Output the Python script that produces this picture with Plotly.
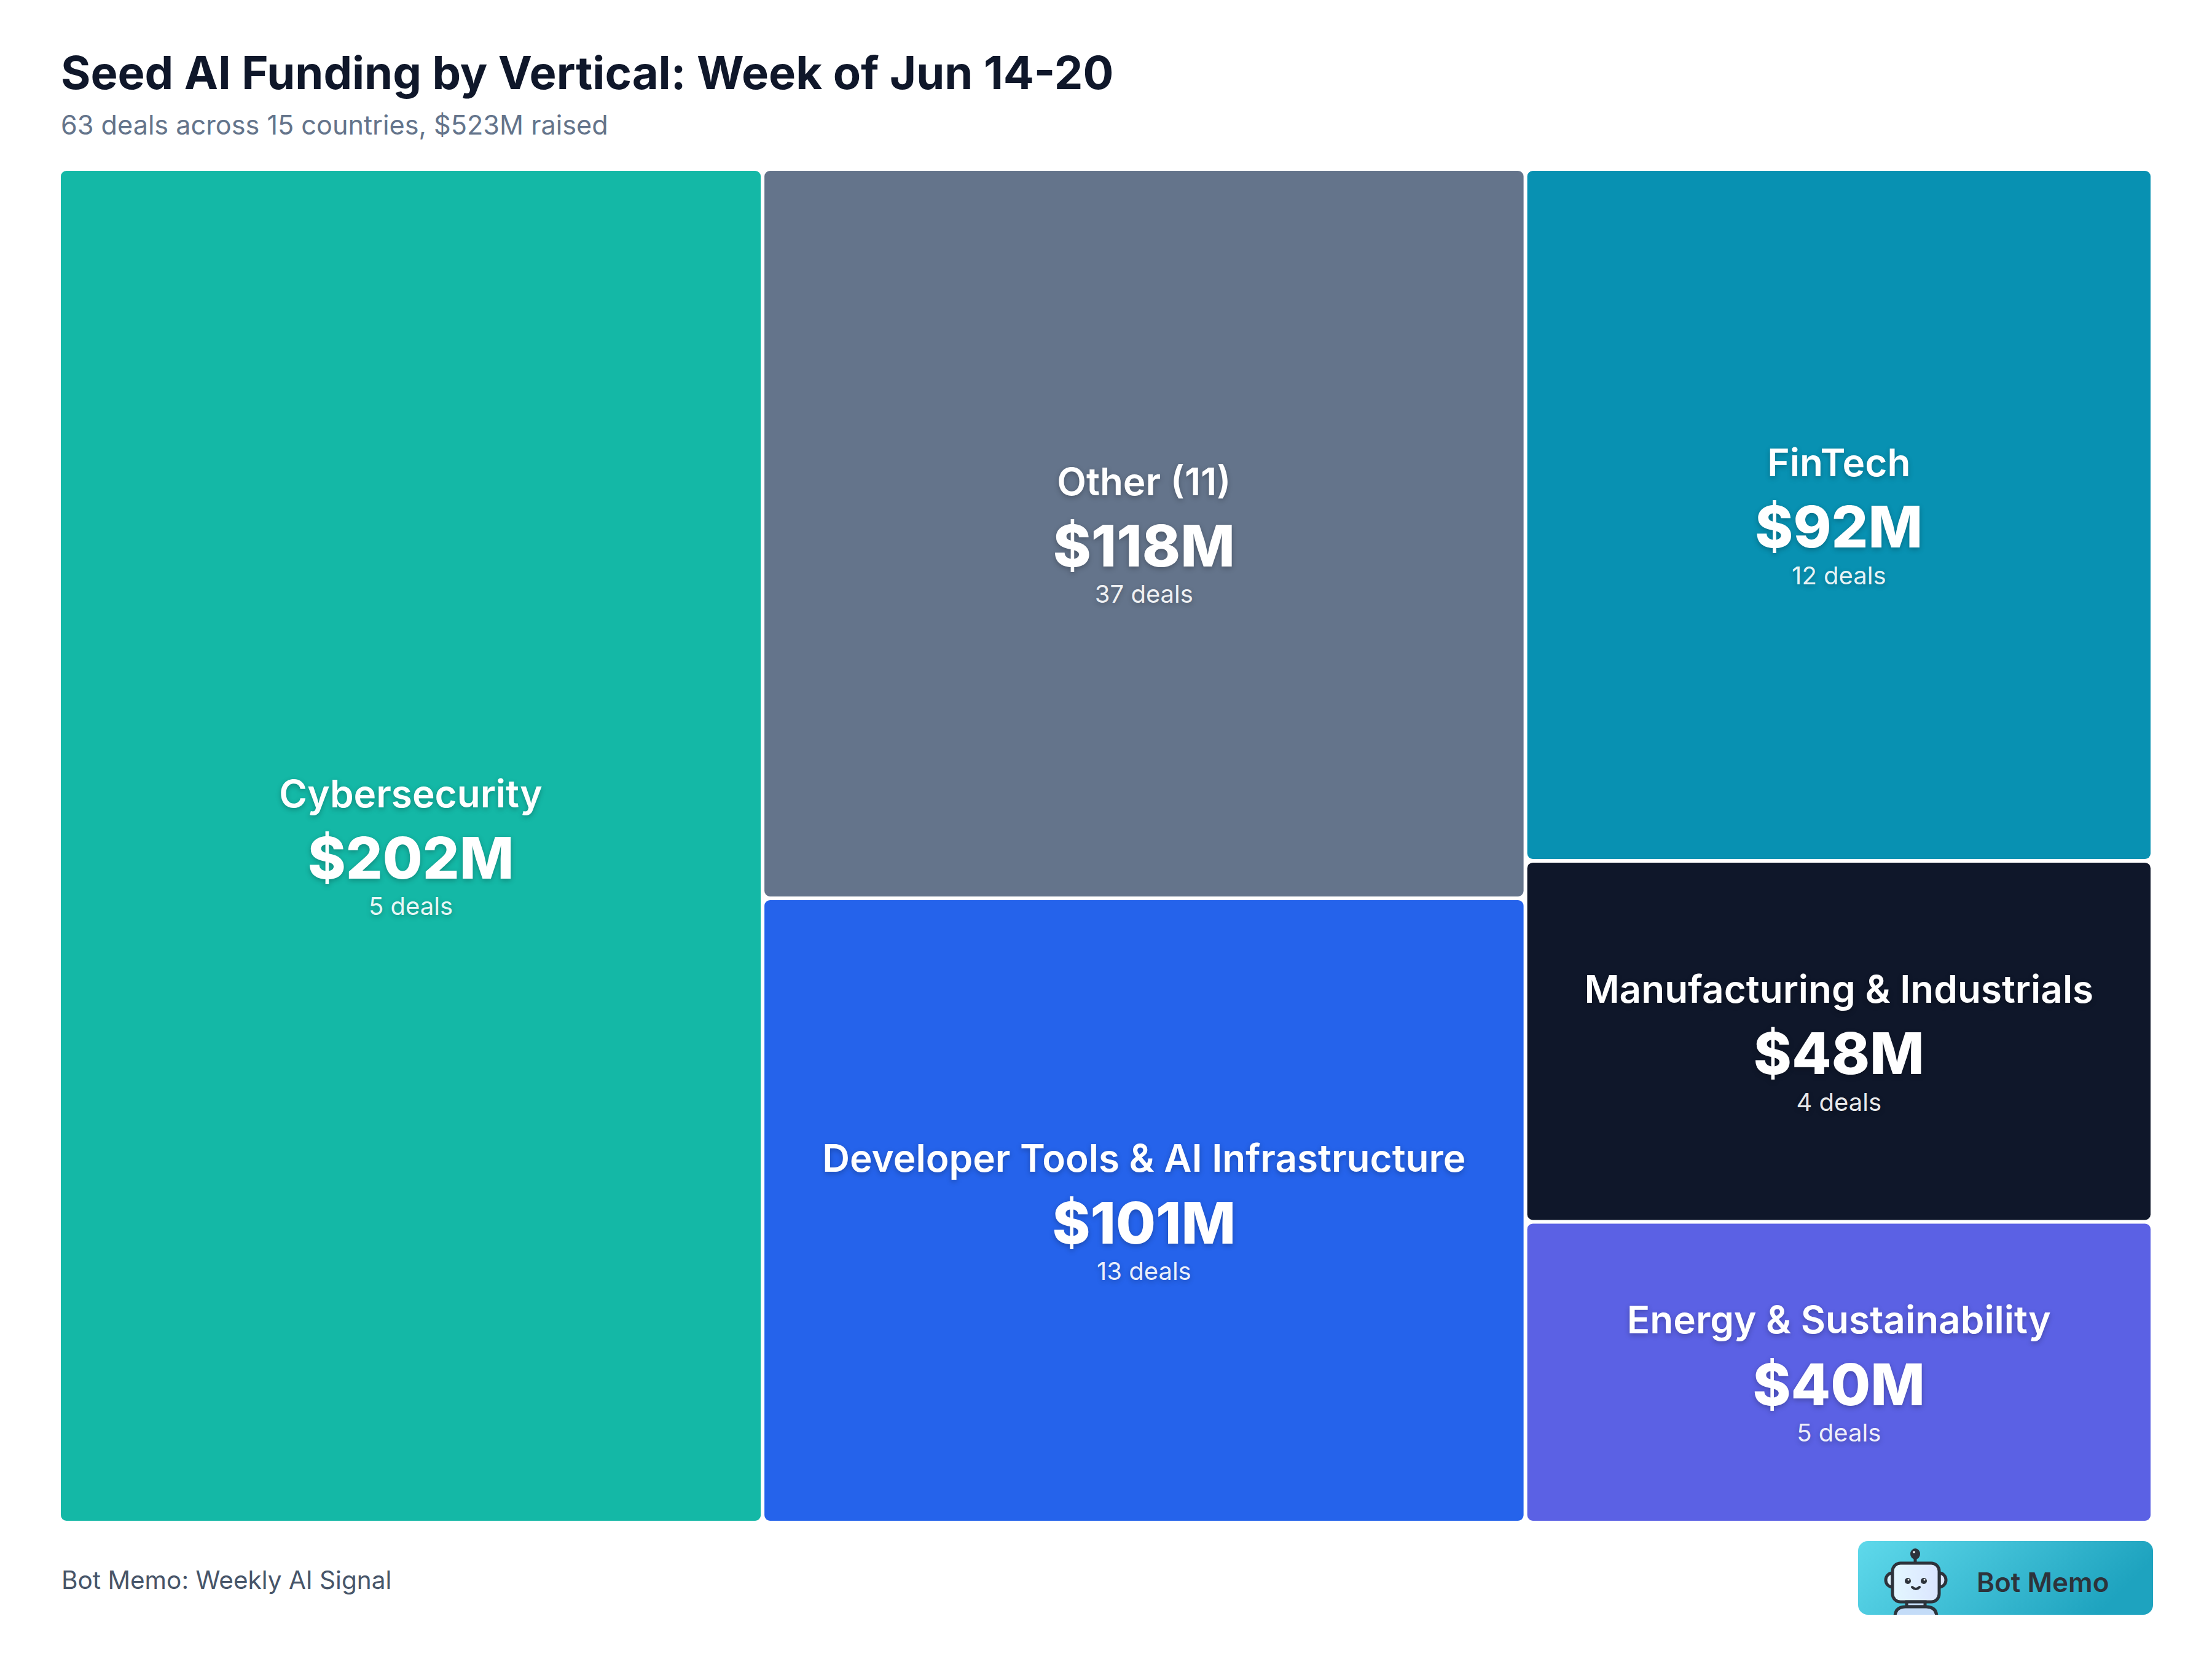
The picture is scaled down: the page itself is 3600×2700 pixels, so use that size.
import base64
import plotly.graph_objects as go

# data
verticals = ["Cybersecurity", "Other (11)", "Developer Tools & AI Infrastructure",
             "FinTech", "Manufacturing & Industrials", "Energy & Sustainability"]
funding_musd = [202, 118, 101, 92, 48, 40]
deal_counts = [5, 37, 13, 12, 4, 5]
tile_colors = ["#14b8a6", "#64748b", "#2563eb", "#0891b2", "#0f172a", "#5b61e4"]

title_text = "Seed AI Funding by Vertical: Week of Jun 14-20"
subtitle_text = "63 deals across 15 countries, $523M raised"
footer_text = "Bot Memo: Weekly AI Signal"
brand_text = "Bot Memo"

# page geometry (px); the page body adds an 8px offset, so the figure is a bit smaller
OFF = 8
W, H = 3600 - OFF, 2700 - 2 * OFF
ML, MT = 99 - OFF, 278 - OFF
MR = W - (3500 - OFF)
MB = H - (2475 - OFF)


def px(x):
    # reference pixel x -> paper
    return (x - OFF - ML) / (W - ML - MR)


def py(y):
    # reference pixel y -> paper
    return (H - MB - (y - OFF)) / (H - MT - MB)


# badge artwork (gradient pill + robot), text added separately as annotation
badge_svg = """<svg xmlns='http://www.w3.org/2000/svg' width='480' height='120' viewBox='0 0 480 120'>
<defs>
<linearGradient id='bg' x1='0' y1='0' x2='1' y2='0.25'>
<stop offset='0' stop-color='#5fd9eb'/><stop offset='1' stop-color='#1ea3bf'/></linearGradient>
<linearGradient id='face' x1='0' y1='0' x2='1' y2='0'>
<stop offset='0' stop-color='#e3f7ff'/><stop offset='1' stop-color='#dbe5ff'/></linearGradient>
<clipPath id='c'><rect width='480' height='120' rx='16'/></clipPath>
</defs>
<rect width='480' height='120' rx='16' fill='url(#bg)'/>
<g clip-path='url(#c)' stroke='#2d333b' stroke-width='5'>
<path d='M93,29 L93,36' fill='none'/>
<path d='M56,52 A11,11.5 0 0 0 56,75 Z' fill='#dff4ff'/>
<path d='M132,52 A11,11.5 0 0 1 132,75 Z' fill='#dbe5ff'/>
<rect x='56' y='36' width='76' height='63' rx='13' fill='url(#face)'/>
<rect x='79' y='99' width='30' height='8' fill='#c4dcf8'/>
<path d='M60,124 Q60,107 77,107 L111,107 Q128,107 128,124 Z' fill='#c4dcf8'/>
<path d='M88,75 Q94,81 100,75' fill='none' stroke-width='4' stroke-linecap='round'/>
</g>
<ellipse cx='93' cy='21' rx='8' ry='9' fill='#2d333b'/>
<circle cx='81' cy='65' r='5' fill='#2d333b'/>
<circle cx='107' cy='65' r='5' fill='#2d333b'/>
<circle cx='82' cy='63' r='1.5' fill='#ffffff'/>
<circle cx='108' cy='63' r='1.5' fill='#ffffff'/>
<circle cx='91' cy='18' r='1.8' fill='#ffffff'/>
</svg>"""
badge_uri = "data:image/svg+xml;base64," + base64.b64encode(badge_svg.encode()).decode()

# baseline-shift pulls the label and the deal count closer to the big number
tile_template = (
    "<span style='font-size:62px;font-weight:600;baseline-shift:28px'>%{label}</span><br>"
    "<span style='font-size:94px;font-weight:800'>$%{value}M</span><br>"
    "<span style='font-size:40px;fill-opacity:0.92;baseline-shift:29px'>%{customdata} deals</span>"
)

fig = go.Figure(go.Treemap(
    labels=verticals,
    parents=[""] * len(verticals),
    values=funding_musd,
    customdata=deal_counts,
    marker=dict(colors=tile_colors, line=dict(width=0), cornerradius=9,
                pad=dict(t=0, l=0, r=0, b=0)),
    tiling=dict(packing="squarify", pad=6),
    pathbar=dict(visible=False),
    textposition="middle center",
    texttemplate=tile_template,
    textfont=dict(family="Inter", size=68, color="white",
                  shadow="0px 3px 8px rgba(0,0,0,0.25)"),
    hoverinfo="skip",
))

fig.update_layout(
    width=W, height=H,
    margin=dict(l=ML, r=MR, t=MT, b=MB),
    paper_bgcolor="white",
    plot_bgcolor="white",
    font=dict(family="Inter"),
    showlegend=False,
    annotations=[
        dict(text="<span style='font-weight:700'>" + title_text + "</span>",
             x=px(97), y=py(118), xref="paper", yref="paper", xanchor="left", yanchor="middle",
             showarrow=False, font=dict(size=74, color="#0f172a")),
        dict(text=subtitle_text, x=px(97), y=py(203), xref="paper", yref="paper",
             xanchor="left", yanchor="middle", showarrow=False,
             font=dict(size=43.2, color="#64748b")),
        dict(text=footer_text, x=px(98), y=py(2571), xref="paper", yref="paper",
             xanchor="left", yanchor="middle", showarrow=False,
             font=dict(size=40.5, color="#475569")),
        dict(text="<span style='font-weight:600'>" + brand_text + "</span>",
             x=px(3324), y=py(2575), xref="paper", yref="paper",
             xanchor="center", yanchor="middle", showarrow=False,
             font=dict(size=44, color="#2d333b")),
    ],
    images=[dict(source=badge_uri, xref="paper", yref="paper",
                 x=px(3024), y=py(2508), sizex=480 / (W - ML - MR), sizey=120 / (H - MT - MB),
                 xanchor="left", yanchor="top", sizing="stretch", layer="below")],
)

fig.write_html("out.html")
